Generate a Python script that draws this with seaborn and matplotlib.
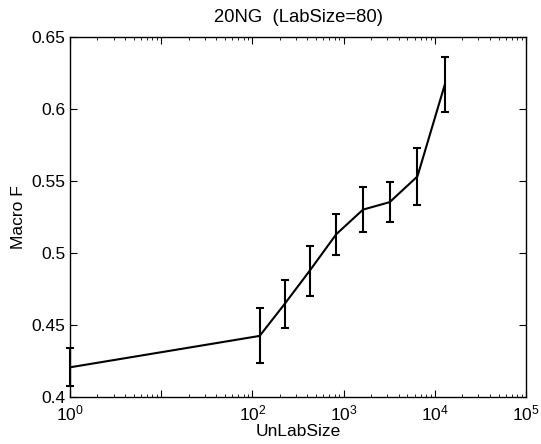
import numpy as np
import pandas as pd
import matplotlib
matplotlib.use("Agg")
import matplotlib.pyplot as plt
import seaborn as sns

# unlabeled set sizes and macro F (mean, std)
unlab_size = [1, 120, 225, 425, 830, 1630, 3200, 6450, 12900]
macro_f = [0.4206, 0.4424, 0.4645, 0.4877, 0.5130, 0.5301, 0.5353, 0.5532, 0.6172]
macro_f_err = [0.0133, 0.0191, 0.0168, 0.0174, 0.0144, 0.0155, 0.0138, 0.0199, 0.0191]

x_ticks = [1, 10, 100, 1000, 10000, 100000]
x_labels = ['$10^0$', '', '$10^2$', '$10^3$', '$10^4$', '$10^5$']
y_ticks = [0.4, 0.45, 0.5, 0.55, 0.6, 0.65]
y_labels = ['0.4', '0.45', '0.5', '0.55', '0.6', '0.65']

sns.set_style("ticks")
plt.rcParams['font.family'] = ['Liberation Sans', 'DejaVu Sans']
plt.rcParams['mathtext.fontset'] = 'custom'
plt.rcParams['mathtext.rm'] = 'Liberation Sans'
plt.rcParams['mathtext.it'] = 'Liberation Sans'
plt.rcParams['text.color'] = 'black'
plt.rcParams['axes.labelcolor'] = 'black'
plt.rcParams['xtick.color'] = 'black'
plt.rcParams['ytick.color'] = 'black'
plt.rcParams['axes.edgecolor'] = 'black'

df = pd.DataFrame({'UnLabSize': unlab_size, 'MacroF': macro_f, 'err': macro_f_err})

fig = plt.figure(figsize=(5.41, 4.44), dpi=100)
ax = fig.add_axes([0.1294, 0.1059, 0.8429, 0.8108])

sns.lineplot(x='UnLabSize', y='MacroF', data=df, ax=ax, color='black', lw=1.5)
ax.errorbar(df['UnLabSize'], df['MacroF'], yerr=df['err'], fmt='none',
            ecolor='black', elinewidth=1.5, capsize=3, capthick=1.5, clip_on=False)

ax.set_xscale('log')
ax.set_xlim(1, 1e5)
ax.set_ylim(0.4, 0.65)
ax.set_xticks(x_ticks)
ax.set_xticklabels(x_labels)
ax.set_yticks(y_ticks)
ax.set_yticklabels(y_labels)

ax.tick_params(which='both', direction='in', top=True, right=True, labelsize=12.5)
ax.tick_params(which='major', length=5)
ax.tick_params(which='minor', length=2.5)
ax.tick_params(axis='x', pad=5)
for s in ax.spines.values():
    s.set_linewidth(1.0)
    s.set_visible(True)

ax.set_title("20NG  (LabSize=80)", fontsize=13.3, pad=11)
ax.set_xlabel("UnLabSize", fontsize=12.5, labelpad=0)
ax.set_ylabel("Macro F", fontsize=12.5)

fig.savefig("out.png", dpi=100)
plt.close(fig)
